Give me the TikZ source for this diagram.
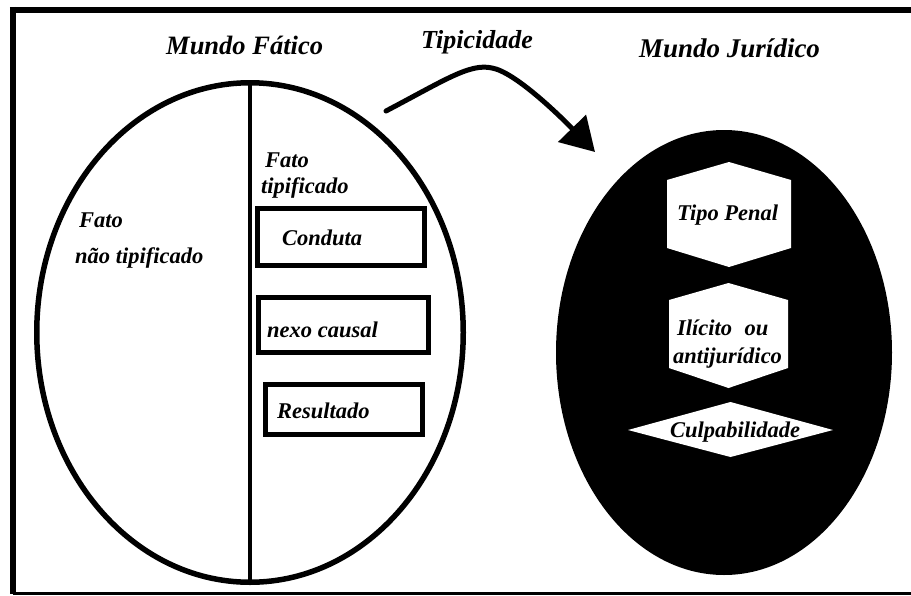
\documentclass[tikz,border=0pt]{standalone}
\usepackage{fontspec}
\setmainfont{Liberation Serif}
\usetikzlibrary{shapes.geometric,arrows.meta}
\tikzset{
  lbl/.style={font=\bfseries\itshape\fontsize{22.5}{27}\selectfont, inner sep=0pt, anchor=base west},
  ttl/.style={font=\bfseries\itshape\fontsize{26.5}{31}\selectfont, inner sep=0pt, anchor=base west},
  boxn/.style={draw, line width=5pt, rectangle, inner sep=0pt},
  shapewhite/.style={fill=white, draw=none},
}
\begin{document}
\begin{tikzpicture}[x=1pt,y=-1pt]
\useasboundingbox (0,0) rectangle (911,595);
% frame
\coordinate (ftl) at (13,10);
\coordinate (ftr) at (911,10);
\coordinate (fbl) at (13,593.7);
\coordinate (fbr) at (911,593.7);
\draw[line width=6.5pt] (ftl) ++(-3.2,0) -- (ftr);
\draw[line width=6.5pt] (ftl) ++(0,-3.2) -- (fbl);
\draw[line width=2.5pt] (fbl) -- (fbr);

% left ellipse
\node[ellipse, draw, line width=5.5pt, minimum width=426.5pt, minimum height=499.5pt, inner sep=0pt] (fatico) at (250,332.5) {};
\draw[line width=4pt] (fatico.north) -- (fatico.south);

% right ellipse
\node[ellipse, fill=black, draw=none, minimum width=336pt, minimum height=445pt, inner sep=0pt] (juridico) at (724,352.5) {};

% titles
\node[ttl] (tfat) at (166,54) {Mundo Fático};
\node[ttl, font=\bfseries\itshape\fontsize{26}{30}\selectfont] (ttip) at (421,48) {Tipicidade};
\node[ttl, font=\bfseries\itshape\fontsize{27}{31}\selectfont] (tjur) at (639,57) {Mundo Jurídico};

% arrow
\coordinate (arrS) at (386,111);
\coordinate (arrM) at (492,68);
\coordinate (arrE) at (595,152);
\draw[line width=5pt, line cap=round, -{Triangle[length=33pt,width=38pt]}]
  (arrS) .. controls (445,80) and (470,63) .. (arrM)
  .. controls (515,72) and (560,116) .. (arrE);

% left texts
\node[lbl] (fato1) at (79,227) {Fato};
\node[lbl] (naotip) at (75,263) {não tipificado};
\node[lbl] (fato2) at (265,167) {Fato};
\node[lbl] (tipif) at (261,193) {tipificado};

% boxes
\node[boxn, minimum width=167pt, minimum height=57pt] (bconduta) at (341,237) {};
\node[boxn, minimum width=170pt, minimum height=55pt] (bnexo) at (343.5,325) {};
\node[boxn, minimum width=157pt, minimum height=50pt] (bres) at (344,409.5) {};
\node[lbl] (conduta) at (282,245) {Conduta};
\node[lbl] (nexo) at (267,337) {nexo causal};
\node[lbl] (resultado) at (277,418) {Resultado};

% right shapes
\fill[shapewhite] (729,162) -- (791,180) -- (791,248) -- (729,267) -- (667,248) -- (667,180) -- cycle;
\fill[shapewhite] (728.5,283) -- (788,300) -- (788,368) -- (728.5,388) -- (669,368) -- (669,300) -- cycle;
\fill[shapewhite] (628,430) -- (730.5,402) -- (833,430) -- (730.5,457) -- cycle;
\node[lbl] (tipo) at (677,220) {Tipo Penal};
\node[lbl] (ilicito) at (677,335) {Ilícito\hspace{0.3em} ou};
\node[lbl] (antij) at (673,363) {antijurídico};
\node[lbl] (culpa) at (670,437) {Culpabilidade};
\end{tikzpicture}
\end{document}
